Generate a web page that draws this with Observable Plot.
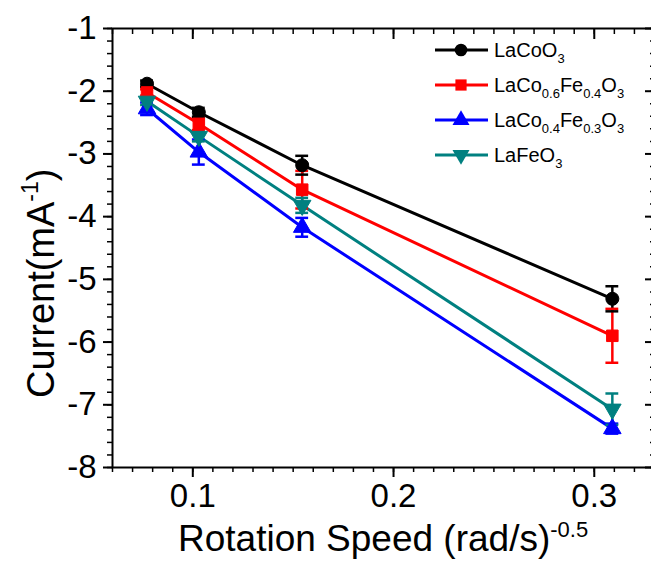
<!DOCTYPE html>
<html><head><meta charset="utf-8">
<script src="https://cdn.jsdelivr.net/npm/d3@7"></script>
<script src="https://cdn.jsdelivr.net/npm/@observablehq/plot@0.6"></script>
<style>body{margin:0;background:#fff;} svg{font-family:"Liberation Sans", Arial, sans-serif;}</style>
</head><body><div id="chart"></div>
<script>
// ---- data ----
const speeds = [0.0772, 0.103, 0.1545, 0.309];
const series = ["LaCoO3", "LaCo0.6Fe0.4O3", "LaCo0.4Fe0.3O3", "LaFeO3"];
const laCoO3 = [-1.88, -2.335, -3.18, -5.31];
const laCo06Fe04O3 = [-2.02, -2.52, -3.57, -5.90];
const laCo04Fe03O3 = [-2.28, -2.97, -4.17, -7.38];
const laFeO3 = [-2.16, -2.72, -3.82, -7.07];
const errLaCoO3 = [0.05, 0.07, 0.15, 0.20];
const errLaCo06Fe04O3 = [0.05, 0.10, 0.30, 0.43];
const errLaCo04Fe03O3 = [0.10, 0.20, 0.15, 0.08];
const errLaFeO3 = [0.06, 0.08, 0.12, 0.25];
const colors = ["#000000", "#ff0000", "#0000ff", "#008080"];
const symbolNames = ["circle", "square", "triangle", "triangle"];
const rotations = [0, 0, 0, 180];
const xMajor = [0.1, 0.2, 0.3];
const xMinor = d3.range(6, 34).map(i => i / 100);
const yMajor = [-1, -2, -3, -4, -5, -6, -7, -8];
const yMinor = d3.range(-40, -4).map(i => i / 5);
// legend labels as [text, subscript] pieces
const legendParts = [
  [["LaCoO", false], ["3", true]],
  [["LaCo", false], ["0.6", true], ["Fe", false], ["0.4", true], ["O", false], ["3", true]],
  [["LaCo", false], ["0.4", true], ["Fe", false], ["0.3", true], ["O", false], ["3", true]],
  [["LaFeO", false], ["3", true]]
];

const values = [laCoO3, laCo06Fe04O3, laCo04Fe03O3, laFeO3];
const errors = [errLaCoO3, errLaCo06Fe04O3, errLaCo04Fe03O3, errLaFeO3];
const rows = [];
series.forEach((s, i) => speeds.forEach((x, j) => rows.push({
  series: s, x, y: values[i][j], e: errors[i][j], rot: rotations[i]
})));
const capHalf = 0.0032;

const W = 651, H = 562;
const chart = Plot.plot({
  width: W, height: H,
  marginLeft: 112, marginTop: 28, marginBottom: 95, marginRight: -3,
  style: {fontFamily: "Liberation Sans, Arial, sans-serif", background: "#fff", color: "#000", overflow: "hidden"},
  x: {domain: [0.06, 0.33]},
  y: {domain: [-8, -1]},
  color: {domain: series, range: colors},
  symbol: {domain: series, range: symbolNames},
  marks: [
    Plot.frame({stroke: "#000", strokeWidth: 2}),
    Plot.axisX({ticks: xMajor, tickSize: 10, tickPadding: 6, fontSize: 33, strokeWidth: 2, tickFormat: d => d.toFixed(1), label: null}),
    Plot.axisX({ticks: xMinor, tickSize: 5, strokeWidth: 1.5, text: null, label: null}),
    Plot.axisX({anchor: "top", ticks: xMajor, tickSize: -10, strokeWidth: 2, text: null, label: null}),
    Plot.axisX({anchor: "top", ticks: xMinor, tickSize: -5, strokeWidth: 1.5, text: null, label: null}),
    Plot.axisY({ticks: yMajor, tickSize: 9, tickPadding: 7, fontSize: 33, strokeWidth: 2, tickFormat: d => `${d}`, label: null}),
    Plot.axisY({ticks: yMinor, tickSize: 5, strokeWidth: 1.5, text: null, label: null}),
    Plot.axisY({anchor: "right", ticks: yMajor, tickSize: -10, strokeWidth: 2, text: null, label: null}),
    Plot.axisY({anchor: "right", ticks: yMinor, tickSize: -5, strokeWidth: 1.5, text: null, label: null}),
    Plot.line(rows, {x: "x", y: "y", z: "series", stroke: "series", strokeWidth: 3}),
    Plot.ruleX(rows, {x: "x", y1: d => d.y - d.e, y2: d => d.y + d.e, stroke: "series", strokeWidth: 2.5}),
    Plot.ruleY(rows, {y: d => d.y + d.e, x1: d => d.x - capHalf, x2: d => d.x + capHalf, stroke: "series", strokeWidth: 2.5}),
    Plot.ruleY(rows, {y: d => d.y - d.e, x1: d => d.x - capHalf, x2: d => d.x + capHalf, stroke: "series", strokeWidth: 2.5}),
    Plot.dot(rows, {x: "x", y: "y", symbol: "series", fill: "series", stroke: "series", strokeWidth: 1, r: 6.5, rotate: "rot"})
  ]
});
document.getElementById("chart").appendChild(chart);

// ---- axis titles and legend (rich text) ----
const svg = d3.select(chart);
const font = "Liberation Sans, Arial, sans-serif";
const xt = svg.append("text").attr("x", 178).attr("y", 551).attr("text-anchor", "start")
  .attr("font-size", 37).attr("font-family", font).attr("fill", "#000");
xt.append("tspan").text("Rotation Speed (rad/s)");
xt.append("tspan").attr("font-size", 22).attr("dy", -14).text("-0.5");

const yt = svg.append("text").attr("transform", "translate(54,398) rotate(-90)").attr("text-anchor", "start")
  .attr("font-size", 38).attr("font-family", font).attr("fill", "#000");
yt.append("tspan").text("Current(mA");
yt.append("tspan").attr("font-size", 23).attr("dy", -16).text("-1");
yt.append("tspan").attr("dy", 16).text(")");

const lg = svg.append("g");
const rowY = [50, 85, 120, 155];
const symMap = {circle: d3.symbolCircle, square: d3.symbolSquare, triangle: d3.symbolTriangle};
series.forEach((s, i) => {
  const g = lg.append("g").attr("transform", `translate(0,${rowY[i]})`);
  g.append("line").attr("x1", 435).attr("x2", 488).attr("stroke", colors[i]).attr("stroke-width", 3);
  g.append("path").attr("d", d3.symbol(symMap[symbolNames[i]], Math.PI * 40)())
    .attr("transform", `translate(461,0) rotate(${rotations[i]})`).attr("fill", colors[i]);
  const t = g.append("text").attr("x", 494).attr("y", 7).attr("font-size", 20).attr("text-anchor", "start")
    .attr("font-family", font).attr("fill", "#000");
  let shifted = false;
  legendParts[i].forEach(([txt, sub]) => {
    const sp = t.append("tspan").text(txt);
    if (sub && !shifted) { sp.attr("font-size", 13).attr("dy", 6); shifted = true; }
    else if (!sub && shifted) { sp.attr("dy", -6); shifted = false; }
    else if (sub) sp.attr("font-size", 13);
  });
});
</script></body></html>
